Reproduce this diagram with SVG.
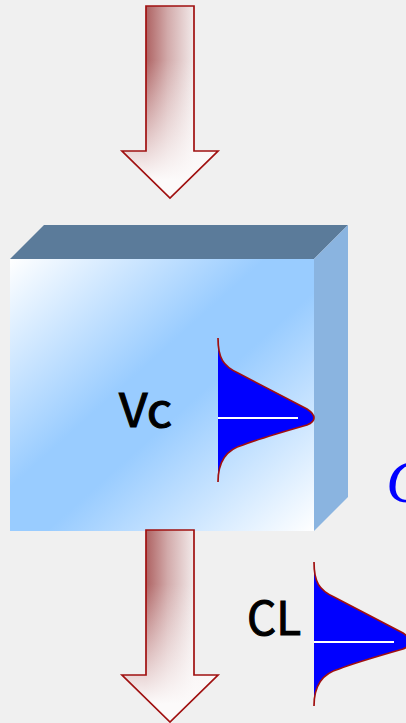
<svg xmlns="http://www.w3.org/2000/svg" xmlns:xlink="http://www.w3.org/1999/xlink" width="406" height="723" viewBox="0 0 406 723">
  <defs>
    <linearGradient id="shaftH" gradientUnits="userSpaceOnUse" x1="146" y1="0" x2="194" y2="0">
      <stop offset="0" stop-color="#AE6262"/>
      <stop offset="0.45" stop-color="#D2AAAA"/>
      <stop offset="1" stop-color="#F2EAEA"/>
    </linearGradient>
    <linearGradient id="shaftV" gradientUnits="userSpaceOnUse" x1="0" y1="60" x2="0" y2="180">
      <stop offset="0" stop-color="#FFFFFF" stop-opacity="0"/>
      <stop offset="1" stop-color="#FCFAFA" stop-opacity="1"/>
    </linearGradient>
    <linearGradient id="front" x1="0" y1="0" x2="1" y2="1">
      <stop offset="0" stop-color="#FFFFFF"/>
      <stop offset="0.42" stop-color="#99CCFF"/>
      <stop offset="0.56" stop-color="#99CCFF"/>
      <stop offset="1" stop-color="#FFFFFF"/>
    </linearGradient>
    <path id="arrowShape" d="M146,6 H194 V151 H218 L170,198 L122,151 H146 Z"/>
    <path id="gauss" d="M0,-80 C0,-60 5,-52 20,-45 C43,-33 66,-21 89,-9 C95,-5 96,-2 96,0 C96,2 94,5 89,7 C68,13 40,21 25,27 C10,31 0,42 0,64"/>
  </defs>
  <style>
    .arrowFill { fill: url(#shaftH); stroke: none; }
    .arrowFade { fill: url(#shaftV); stroke: #A01010; stroke-width: 1.7; stroke-linejoin: miter; }
    .dist { fill: #0000FF; stroke: #A01010; stroke-width: 1.7; }
    .mean { stroke: #FFFFFF; stroke-width: 2; }
    .lbl { font-family: "Noto Sans CJK JP", "Liberation Sans", sans-serif; font-size: 46px; font-weight: 400; fill: #000000; stroke: #000000; stroke-width: 1.1; }
  </style>
  <rect x="0" y="0" width="406" height="723" fill="#F0F0F0"/>

  <g id="box">
    <polygon points="10,259 44,225 348,225 314,259" fill="#5B7B9A"/>
    <polygon points="314,259 348,225 348,497 314,531" fill="#8AB4E0"/>
    <rect x="10" y="259" width="304" height="272" fill="url(#front)"/>
  </g>

  <g id="vc-label">
    <text class="lbl" x="119" y="427" textLength="53" lengthAdjust="spacingAndGlyphs">Vc</text>
  </g>

  <g id="vc-dist">
    <use xlink:href="#gauss" class="dist" transform="translate(218,418)"/>
    <line class="mean" x1="218" y1="418" x2="298" y2="418"/>
  </g>

  <g id="connectors">
    <g id="arrow-in">
      <use xlink:href="#arrowShape" class="arrowFill"/>
      <use xlink:href="#arrowShape" class="arrowFade"/>
    </g>
    <g id="arrow-out" transform="translate(0,524)">
      <use xlink:href="#arrowShape" class="arrowFill"/>
      <use xlink:href="#arrowShape" class="arrowFade"/>
    </g>
  </g>

  <g id="cl-label">
    <text class="lbl" x="247" y="635" textLength="54" lengthAdjust="spacingAndGlyphs">CL</text>
  </g>

  <g id="cl-dist">
    <use xlink:href="#gauss" class="dist" transform="translate(314,642)"/>
    <line class="mean" x1="314" y1="642" x2="394" y2="642"/>
  </g>

  <g id="c-label">
    <text x="386" y="502" font-family="Liberation Serif, serif" font-style="italic" font-size="62" fill="#0000FF">C</text>
  </g>
</svg>
